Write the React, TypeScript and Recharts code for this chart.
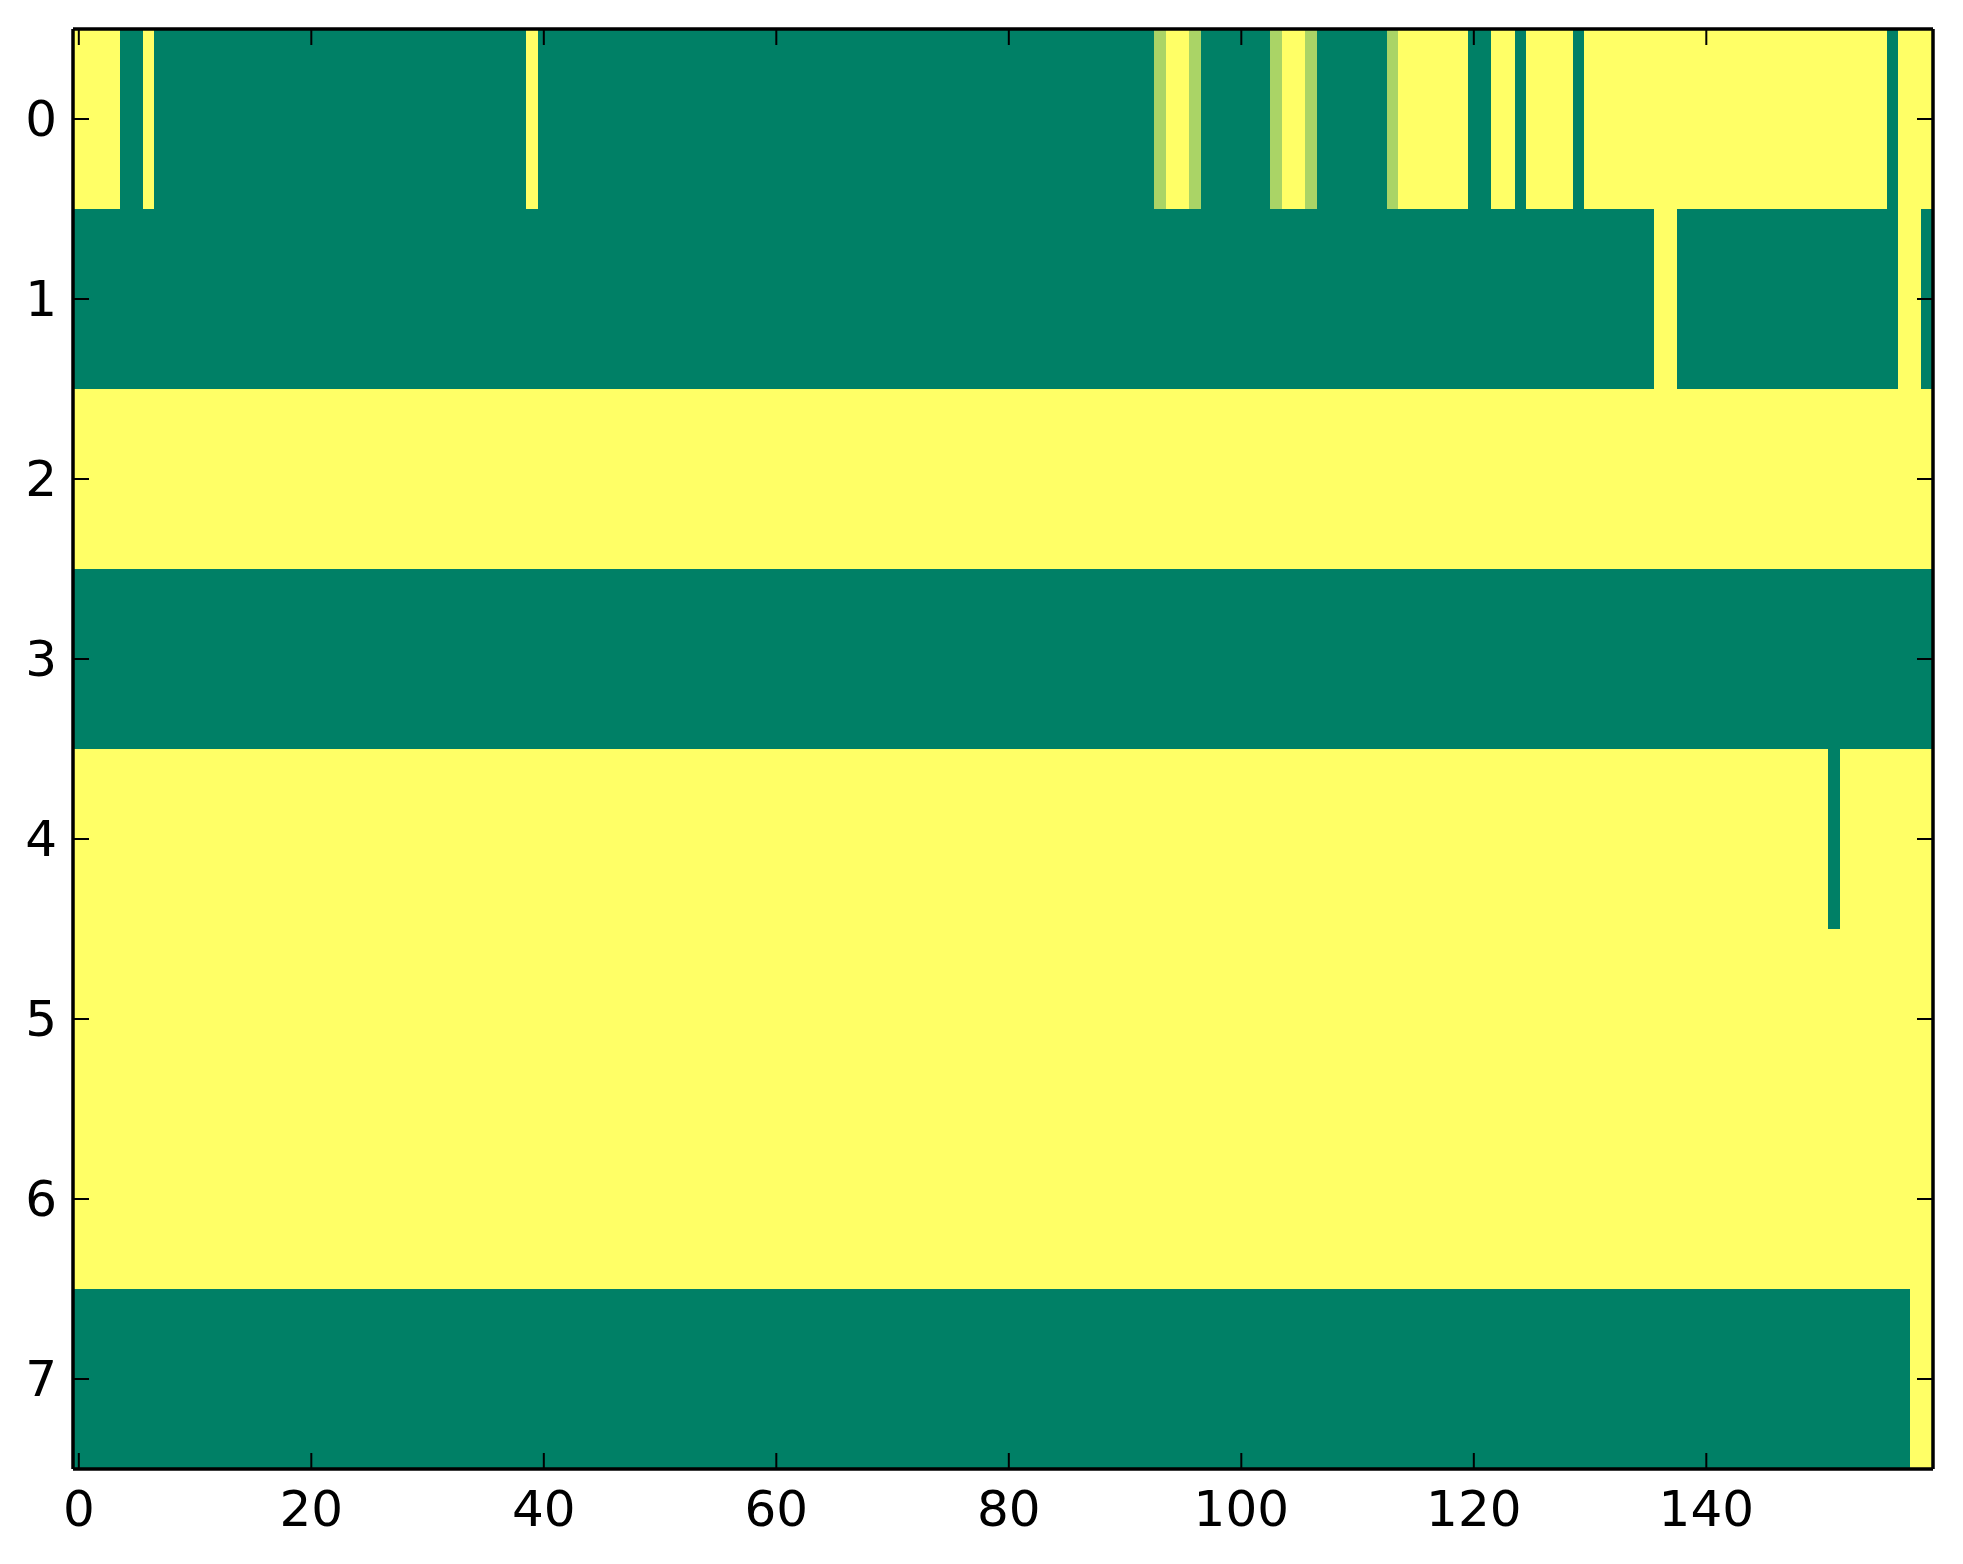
import React from 'react';
import { ComposedChart, XAxis, YAxis, ReferenceArea } from 'recharts';

// Cell values (0 = low, 2 = mid, 3 = high); columns 0..159, rows 0..7
const ROW_0 = [
  3,3,3,3,0,0,3,0,0,0,0,0,0,0,0,0,0,0,0,0,
  0,0,0,0,0,0,0,0,0,0,0,0,0,0,0,0,0,0,0,3,
  0,0,0,0,0,0,0,0,0,0,0,0,0,0,0,0,0,0,0,0,
  0,0,0,0,0,0,0,0,0,0,0,0,0,0,0,0,0,0,0,0,
  0,0,0,0,0,0,0,0,0,0,0,0,0,2,3,3,2,0,0,0,
  0,0,0,2,3,3,2,0,0,0,0,0,0,2,3,3,3,3,3,3,
  0,0,3,3,0,3,3,3,3,0,3,3,3,3,3,3,3,3,3,3,
  3,3,3,3,3,3,3,3,3,3,3,3,3,3,3,3,0,3,3,3,
];
const ROW_1 = [
  0,0,0,0,0,0,0,0,0,0,0,0,0,0,0,0,0,0,0,0,
  0,0,0,0,0,0,0,0,0,0,0,0,0,0,0,0,0,0,0,0,
  0,0,0,0,0,0,0,0,0,0,0,0,0,0,0,0,0,0,0,0,
  0,0,0,0,0,0,0,0,0,0,0,0,0,0,0,0,0,0,0,0,
  0,0,0,0,0,0,0,0,0,0,0,0,0,0,0,0,0,0,0,0,
  0,0,0,0,0,0,0,0,0,0,0,0,0,0,0,0,0,0,0,0,
  0,0,0,0,0,0,0,0,0,0,0,0,0,0,0,0,3,3,0,0,
  0,0,0,0,0,0,0,0,0,0,0,0,0,0,0,0,0,3,3,0,
];
const ROW_2 = [
  3,3,3,3,3,3,3,3,3,3,3,3,3,3,3,3,3,3,3,3,
  3,3,3,3,3,3,3,3,3,3,3,3,3,3,3,3,3,3,3,3,
  3,3,3,3,3,3,3,3,3,3,3,3,3,3,3,3,3,3,3,3,
  3,3,3,3,3,3,3,3,3,3,3,3,3,3,3,3,3,3,3,3,
  3,3,3,3,3,3,3,3,3,3,3,3,3,3,3,3,3,3,3,3,
  3,3,3,3,3,3,3,3,3,3,3,3,3,3,3,3,3,3,3,3,
  3,3,3,3,3,3,3,3,3,3,3,3,3,3,3,3,3,3,3,3,
  3,3,3,3,3,3,3,3,3,3,3,3,3,3,3,3,3,3,3,3,
];
const ROW_3 = [
  0,0,0,0,0,0,0,0,0,0,0,0,0,0,0,0,0,0,0,0,
  0,0,0,0,0,0,0,0,0,0,0,0,0,0,0,0,0,0,0,0,
  0,0,0,0,0,0,0,0,0,0,0,0,0,0,0,0,0,0,0,0,
  0,0,0,0,0,0,0,0,0,0,0,0,0,0,0,0,0,0,0,0,
  0,0,0,0,0,0,0,0,0,0,0,0,0,0,0,0,0,0,0,0,
  0,0,0,0,0,0,0,0,0,0,0,0,0,0,0,0,0,0,0,0,
  0,0,0,0,0,0,0,0,0,0,0,0,0,0,0,0,0,0,0,0,
  0,0,0,0,0,0,0,0,0,0,0,0,0,0,0,0,0,0,0,0,
];
const ROW_4 = [
  3,3,3,3,3,3,3,3,3,3,3,3,3,3,3,3,3,3,3,3,
  3,3,3,3,3,3,3,3,3,3,3,3,3,3,3,3,3,3,3,3,
  3,3,3,3,3,3,3,3,3,3,3,3,3,3,3,3,3,3,3,3,
  3,3,3,3,3,3,3,3,3,3,3,3,3,3,3,3,3,3,3,3,
  3,3,3,3,3,3,3,3,3,3,3,3,3,3,3,3,3,3,3,3,
  3,3,3,3,3,3,3,3,3,3,3,3,3,3,3,3,3,3,3,3,
  3,3,3,3,3,3,3,3,3,3,3,3,3,3,3,3,3,3,3,3,
  3,3,3,3,3,3,3,3,3,3,3,0,3,3,3,3,3,3,3,3,
];
const ROW_5 = [
  3,3,3,3,3,3,3,3,3,3,3,3,3,3,3,3,3,3,3,3,
  3,3,3,3,3,3,3,3,3,3,3,3,3,3,3,3,3,3,3,3,
  3,3,3,3,3,3,3,3,3,3,3,3,3,3,3,3,3,3,3,3,
  3,3,3,3,3,3,3,3,3,3,3,3,3,3,3,3,3,3,3,3,
  3,3,3,3,3,3,3,3,3,3,3,3,3,3,3,3,3,3,3,3,
  3,3,3,3,3,3,3,3,3,3,3,3,3,3,3,3,3,3,3,3,
  3,3,3,3,3,3,3,3,3,3,3,3,3,3,3,3,3,3,3,3,
  3,3,3,3,3,3,3,3,3,3,3,3,3,3,3,3,3,3,3,3,
];
const ROW_6 = [
  3,3,3,3,3,3,3,3,3,3,3,3,3,3,3,3,3,3,3,3,
  3,3,3,3,3,3,3,3,3,3,3,3,3,3,3,3,3,3,3,3,
  3,3,3,3,3,3,3,3,3,3,3,3,3,3,3,3,3,3,3,3,
  3,3,3,3,3,3,3,3,3,3,3,3,3,3,3,3,3,3,3,3,
  3,3,3,3,3,3,3,3,3,3,3,3,3,3,3,3,3,3,3,3,
  3,3,3,3,3,3,3,3,3,3,3,3,3,3,3,3,3,3,3,3,
  3,3,3,3,3,3,3,3,3,3,3,3,3,3,3,3,3,3,3,3,
  3,3,3,3,3,3,3,3,3,3,3,3,3,3,3,3,3,3,3,3,
];
const ROW_7 = [
  0,0,0,0,0,0,0,0,0,0,0,0,0,0,0,0,0,0,0,0,
  0,0,0,0,0,0,0,0,0,0,0,0,0,0,0,0,0,0,0,0,
  0,0,0,0,0,0,0,0,0,0,0,0,0,0,0,0,0,0,0,0,
  0,0,0,0,0,0,0,0,0,0,0,0,0,0,0,0,0,0,0,0,
  0,0,0,0,0,0,0,0,0,0,0,0,0,0,0,0,0,0,0,0,
  0,0,0,0,0,0,0,0,0,0,0,0,0,0,0,0,0,0,0,0,
  0,0,0,0,0,0,0,0,0,0,0,0,0,0,0,0,0,0,0,0,
  0,0,0,0,0,0,0,0,0,0,0,0,0,0,0,0,0,0,3,3,
];

const ROWS = [ROW_0, ROW_1, ROW_2, ROW_3, ROW_4, ROW_5, ROW_6, ROW_7];
const X_TICKS = [0, 20, 40, 60, 80, 100, 120, 140];
const Y_TICKS = [0, 1, 2, 3, 4, 5, 6, 7];
const V_MIN = 0;
const V_MAX = 3;

// matplotlib "summer" colormap
function summer(value: number): string {
  const t = Math.max(0, Math.min(1, (value - V_MIN) / (V_MAX - V_MIN)));
  const r = Math.round(255 * t);
  const g = Math.round(255 * (0.5 + 0.5 * t));
  const b = Math.round(255 * 0.4);
  return `rgb(${r},${g},${b})`;
}

type Run = { row: number; start: number; end: number; value: number };

const runs: Run[] = [];
ROWS.forEach((row, r) => {
  let s = 0;
  for (let c = 1; c <= row.length; c++) {
    if (c === row.length || row[c] !== row[s]) {
      runs.push({ row: r, start: s, end: c - 1, value: row[s] });
      s = c;
    }
  }
});

// one entry per column, so the numeric axes have data keys
const chartData = ROW_0.map((_, c) => ({ col: c, row: c % ROWS.length }));

const FONT = 'DejaVu Sans, Bitstream Vera Sans, sans-serif';
const TICK_LEN = 16;
const W = 1963;
const H = 1564;
const MARGIN = { top: 28, right: 29, bottom: 0, left: 0 };

const BottomTick = (props: any) => {
  const { x, y, payload } = props;
  return (
    <g>
      <line x1={x} x2={x} y1={y} y2={y - TICK_LEN} stroke="#000" strokeWidth={2} />
      <text x={x} y={y + 57} textAnchor="middle" fontSize={50} fontFamily={FONT} fill="#000">
        {payload.value}
      </text>
    </g>
  );
};
const TopTick = (props: any) => {
  const { x, y } = props;
  return <line x1={x} x2={x} y1={y} y2={y + TICK_LEN} stroke="#000" strokeWidth={2} />;
};
const LeftTick = (props: any) => {
  const { x, y, payload } = props;
  return (
    <g>
      <line x1={x} x2={x + TICK_LEN} y1={y} y2={y} stroke="#000" strokeWidth={2} />
      <text x={x - 16} y={y + 17} textAnchor="end" fontSize={50} fontFamily={FONT} fill="#000">
        {payload.value}
      </text>
    </g>
  );
};
const RightTick = (props: any) => {
  const { x, y } = props;
  return <line x1={x} x2={x - TICK_LEN} y1={y} y2={y} stroke="#000" strokeWidth={2} />;
};

function axes(show: boolean) {
  const line = show ? { stroke: '#000', strokeWidth: 3.5 } : false;
  return [
    <XAxis
      key="xb"
      xAxisId="b"
      dataKey="col"
      type="number"
      orientation="bottom"
      domain={[-0.5, 159.5]}
      ticks={X_TICKS}
      allowDataOverflow
      height={95}
      tickSize={0}
      tickMargin={0}
      tickLine={false}
      tick={show ? <BottomTick /> : false}
      axisLine={line}
      interval={0}
    />,
    <XAxis
      key="xt"
      xAxisId="t"
      dataKey="col"
      type="number"
      orientation="top"
      domain={[-0.5, 159.5]}
      ticks={X_TICKS}
      allowDataOverflow
      height={1}
      tickSize={0}
      tickMargin={0}
      tickLine={false}
      tick={show ? <TopTick /> : false}
      axisLine={line}
      interval={0}
    />,
    <YAxis
      key="yl"
      yAxisId="l"
      dataKey="row"
      type="number"
      orientation="left"
      domain={[-0.5, 7.5]}
      reversed
      ticks={Y_TICKS}
      allowDataOverflow
      width={73}
      tickSize={0}
      tickMargin={0}
      tickLine={false}
      tick={show ? <LeftTick /> : false}
      axisLine={line}
      interval={0}
    />,
    <YAxis
      key="yr"
      yAxisId="r"
      dataKey="row"
      type="number"
      orientation="right"
      domain={[-0.5, 7.5]}
      reversed
      ticks={Y_TICKS}
      allowDataOverflow
      width={1}
      tickSize={0}
      tickMargin={0}
      tickLine={false}
      tick={show ? <RightTick /> : false}
      axisLine={line}
      interval={0}
    />,
  ];
}

export default function App() {
  return (
    <div style={{ position: 'absolute', left: 0, top: 0, width: W, height: H, background: '#fff' }}>
      {/* cells */}
      <div style={{ position: 'absolute', left: 0, top: 0 }}>
        <ComposedChart width={W} height={H} data={chartData} margin={MARGIN}>
          {axes(false)}
          {runs.map((r, i) => (
            <ReferenceArea
              key={i}
              xAxisId="b"
              yAxisId="l"
              x1={r.start - 0.5}
              x2={r.end + 0.5}
              y1={r.row - 0.5}
              y2={r.row + 0.5}
              fill={summer(r.value)}
              fillOpacity={1}
              stroke="none"
              ifOverflow="visible"
              shapeRendering="crispEdges"
            />
          ))}
        </ComposedChart>
      </div>
      {/* frame, ticks and labels drawn on top */}
      <div style={{ position: 'absolute', left: 0, top: 0 }}>
        <ComposedChart width={W} height={H} data={chartData} margin={MARGIN}>
          {axes(true)}
        </ComposedChart>
      </div>
    </div>
  );
}
